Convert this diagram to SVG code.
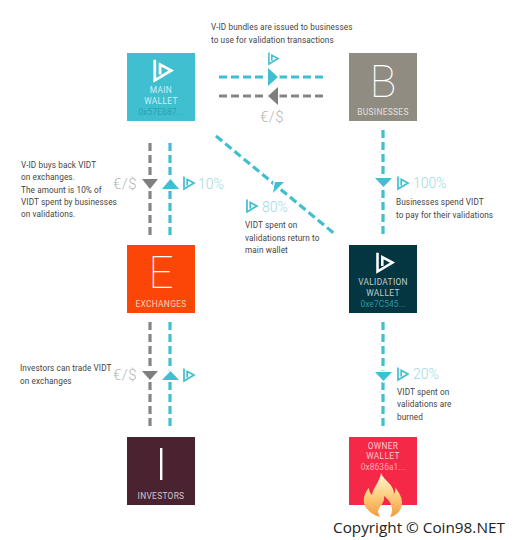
<svg xmlns="http://www.w3.org/2000/svg" xmlns:xlink="http://www.w3.org/1999/xlink" width="519" height="540" viewBox="0 0 519 540">
<style>
text{font-family:Roboto,"Liberation Sans",sans-serif}
.note{font-size:8.2px;fill:#444;letter-spacing:.1px}
.lab{font-size:8.4px;fill:#fff;fill-opacity:.75;text-anchor:middle;letter-spacing:.3px}
.addr{font-size:8.4px;text-anchor:middle;letter-spacing:.1px}
.big{font-size:44px;font-weight:100;fill:#fff;text-anchor:middle}
.pct{font-size:14px;fill:#9adbe3;font-weight:300}
.cur{font-size:15px;fill:#b5b5b5;font-weight:300;letter-spacing:.5px}
.t{stroke:#3fbfd0;stroke-width:3.2;stroke-dasharray:8 4;fill:none}
.g{stroke:#858585;stroke-width:3.2;stroke-dasharray:8 4;fill:none}
.at,.ag{stroke:#fff;stroke-width:3;paint-order:stroke}
.at{fill:#3fbfd0}.ag{fill:#7f7f7f}
</style>
<defs>
<symbol id="logo" viewBox="0 0 12 14" overflow="visible"><path d="M1 .5V13L11 7 4.2 3.4V9.4" fill="none" stroke="currentColor" stroke-width="1.7"/></symbol>
<linearGradient id="fl" x1="0" y1="0" x2="0" y2="1"><stop offset="0" stop-color="#fff6d8"/><stop offset=".45" stop-color="#fdd58a"/><stop offset="1" stop-color="#f59a3c"/></linearGradient>
</defs>
<rect width="519" height="540" fill="#fff"/>
<g id="connectors">
<path class="t" d="M219 77H327"/>
<path class="g" d="M219 96H327"/>
<path class="g" d="M150 143V238"/>
<path class="t" d="M170 143V238"/>
<path class="t" d="M216 136L336 235"/>
<path class="t" d="M383 130V237"/>
<path class="g" d="M150 322V430"/>
<path class="t" d="M170 322V430"/>
<path class="t" d="M383 322V430"/>
<path class="at" d="M268 68L278 77L268 86Z"/>
<path class="ag" d="M278 87L268 96L278 105Z"/>
<path class="ag" d="M142 179H158L150 189Z"/>
<path class="at" d="M162 189H179L170.500 179Z"/>
<path class="at" d="M284 182L275 182L273 193Z"/>
<path class="at" d="M375 178H392L383.500 187Z"/>
<path class="ag" d="M142 371H158L150 380Z"/>
<path class="at" d="M162 380H179L170.500 371Z"/>
<path class="at" d="M375 372H392L383.500 381Z"/>
</g>
<g id="main-wallet">
<rect x="127" y="53" width="68" height="68" fill="#3fbfd0"/>
<use xlink:href="#logo" href="#logo" x="153" y="59" width="20" height="23" style="color:#fff"/>
<text class="lab" x="161" y="93">MAIN</text>
<text class="lab" x="161" y="104">WALLET</text>
<text class="addr" x="161" y="115" fill="#2d9fb0">0x57E687...</text>
</g>
<g id="businesses">
<rect x="349" y="53" width="68" height="68" fill="#918c82"/>
<text class="big" x="383" y="97">B</text>
<text class="lab" x="383" y="115">BUSINESSES</text>
</g>
<g id="exchanges">
<rect x="127" y="245" width="68" height="68" fill="#fb4608"/>
<text class="big" x="161" y="288">E</text>
<text class="lab" x="161" y="307">EXCHANGES</text>
</g>
<g id="validation-wallet">
<rect x="349" y="245" width="68" height="68" fill="#033641"/>
<use xlink:href="#logo" href="#logo" x="376" y="252" width="18" height="21" style="color:#fff"/>
<text class="lab" x="383" y="285">VALIDATION</text>
<text class="lab" x="383" y="296">WALLET</text>
<text class="addr" x="383" y="307" fill="#2a95a5">0xe7C545...</text>
</g>
<g id="investors">
<rect x="127" y="437" width="68" height="68" fill="#4b2230"/>
<rect x="160" y="448" width="2.400" height="32" fill="#fff"/>
<text class="lab" x="161" y="499">INVESTORS</text>
</g>
<g id="owner-wallet">
<rect x="349" y="437" width="68" height="68" fill="#f52847"/>
<text class="lab" x="383" y="449">OWNER</text>
<text class="lab" x="383" y="459">WALLET</text>
<text class="addr" x="383" y="470" fill="#fff" fill-opacity=".6">0x8636a1...</text>
<path d="M381 473C384 481 394 484 394 494C395 492 396 489 395 487C400 494 404 500 401 508C399 513 395 516 390 517C394 510 392 502 384 496C385 503 380 505 378 511C378 513 379 515 380 517C372 515 366 510 364 503C363 497 366 491 369 488C369 491 370 493 372 495C373 488 380 481 381 473Z" fill="url(#fl)"/>
</g>
<g id="labels">
<text class="note" x="211" y="30">V-ID bundles are issued to businesses</text>
<text class="note" x="211" y="43">to use for validation transactions</text>
<use href="#logo" x="268" y="52" width="11" height="13" style="color:#3fbfd0"/>
<text class="cur" x="260" y="122">€/$</text>
<text class="note" x="21" y="168">V-ID buys back VIDT</text>
<text class="note" x="21" y="180">on exchanges.</text>
<text class="note" x="21" y="193">The amount is 10% of</text>
<text class="note" x="21" y="205">VIDT spent by businesses</text>
<text class="note" x="21" y="217">on validations.</text>
<text class="cur" x="113" y="189">€/$</text>
<use href="#logo" x="183" y="176" width="12" height="14" style="color:#3fbfd0"/>
<text class="pct" x="198" y="189">10%</text>
<use href="#logo" x="246" y="199" width="12" height="14" style="color:#3fbfd0"/>
<text class="pct" x="262" y="212">80%</text>
<text class="note" x="245" y="228">VIDT spent on</text>
<text class="note" x="245" y="241">validations return to</text>
<text class="note" x="245" y="253">main wallet</text>
<use href="#logo" x="397" y="176" width="12" height="14" style="color:#3fbfd0"/>
<text class="pct" x="413" y="188">100%</text>
<text class="note" x="396" y="205">Businesses spend VIDT</text>
<text class="note" x="396" y="218">to pay for their validations</text>
<text class="note" x="20" y="371">Investors can trade VIDT</text>
<text class="note" x="20" y="384">on exchanges</text>
<text class="cur" x="113" y="380">€/$</text>
<use href="#logo" x="183" y="368" width="12" height="14" style="color:#3fbfd0"/>
<use href="#logo" x="397" y="367" width="12" height="14" style="color:#3fbfd0"/>
<text class="pct" x="413" y="379">20%</text>
<text class="note" x="397" y="395">VIDT spent on</text>
<text class="note" x="397" y="407">validations are</text>
<text class="note" x="397" y="420">burned</text>
<text x="333" y="533" font-size="15.300" fill="#222" style="font-family:'Open Sans','Liberation Sans',sans-serif">Copyright © Coin98.NET</text>
</g>
</svg>
